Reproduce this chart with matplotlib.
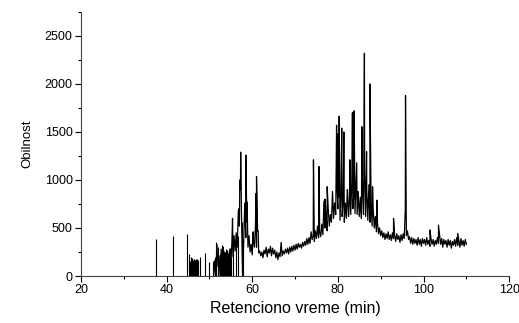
import numpy as np
import matplotlib
matplotlib.use("Agg")
import matplotlib.pyplot as plt
from matplotlib.ticker import MultipleLocator

plt.rcParams['font.family'] = ['Liberation Sans', 'DejaVu Sans']

# early isolated peaks (min, abundance), drawn from zero
early_times = [37.5, 41.6, 44.8, 45.3, 45.5, 45.7, 45.9, 46.1, 46.3, 46.5, 46.7,
               46.9, 47.1, 47.4, 47.7, 49.0, 50.0, 50.8,
               51.3, 51.6, 51.9, 52.1, 52.4, 52.6, 52.9, 53.1, 53.4, 53.6,
               53.9, 54.1, 54.4, 54.6, 54.9, 55.1, 55.6, 56.1, 56.6, 57.6, 57.9]
early_heights = [385, 416, 440, 225, 160, 200, 190, 170, 180, 175, 170,
                 175, 180, 170, 200, 240, 150, 160,
                 200, 350, 180, 300, 230, 190, 320, 170, 260, 210,
                 280, 180, 240, 220, 290, 200, 330, 360, 420, 560, 380]

# main trace read every 0.25 min from 51.0 to 110.0 min
scan_start = 51.0
scan_step = 0.25
trace = [
    0, 160, 0, 330, 100, 210, 0, 280,            # 51.0 - 52.75
    60, 300, 0, 240, 40, 260, 0, 280,            # 53.0 - 54.75
    120, 350, 200, 420, 260, 450, 300, 680,      # 55.0 - 56.75
    520, 900, 600, 0, 350, 760, 400, 560,        # 57.0 - 58.75
    300, 420, 250, 330, 220, 380, 300, 520,      # 59.0 - 60.75
    300, 470, 240, 260, 210, 250, 190, 270,      # 61.0 - 62.75
    230, 300, 200, 280, 240, 310, 210, 290,      # 63.0 - 64.75
    230, 270, 190, 250, 170, 240, 200, 350,      # 65.0 - 66.75
    210, 260, 230, 280, 240, 290, 230, 300,      # 67.0 - 68.75
    250, 310, 260, 320, 270, 330, 280, 340,      # 69.0 - 70.75
    300, 330, 290, 350, 310, 360, 320, 390,      # 71.0 - 72.75
    330, 400, 340, 460, 380, 420, 360, 470,      # 73.0 - 74.75
    390, 520, 400, 460, 410, 540, 430, 780,      # 75.0 - 76.75
    500, 620, 470, 700, 520, 640, 560, 880,      # 77.0 - 78.75
    600, 760, 640, 1000, 700, 820, 580, 900,     # 79.0 - 80.75
    620, 780, 560, 760, 600, 900, 620, 840,      # 81.0 - 82.75
    640, 980, 700, 860, 650, 1000, 640, 880,     # 83.0 - 84.75
    620, 820, 600, 900, 640, 1100, 620, 900,     # 85.0 - 86.75
    580, 950, 560, 760, 520, 700, 500, 620,      # 87.0 - 88.75
    460, 560, 440, 500, 420, 470, 400, 450,      # 89.0 - 90.75
    380, 440, 390, 460, 380, 430, 370, 450,      # 91.0 - 92.75
    390, 430, 360, 440, 380, 420, 350, 430,      # 93.0 - 94.75
    370, 440, 390, 700, 420, 470, 380, 410,      # 95.0 - 96.75
    340, 400, 330, 390, 340, 380, 320, 400,      # 97.0 - 98.75
    330, 380, 310, 390, 340, 380, 320, 400,      # 99.0 - 100.75
    330, 370, 310, 390, 330, 380, 310, 370,      # 101.0 - 102.75
    330, 400, 340, 430, 330, 390, 300, 380,      # 103.0 - 104.75
    330, 370, 300, 380, 320, 370, 290, 360,      # 105.0 - 106.75
    320, 380, 310, 400, 320, 370, 300, 390,      # 107.0 - 108.75
    320, 370, 310, 380, 330,                     # 109.0 - 110.0
]

# sharp peaks on top of the trace (min, abundance)
peak_times = [55.4, 56.9, 57.1, 57.3, 58.5, 58.8, 60.2, 60.9, 61.0, 61.4,
              74.3, 75.6, 77.0, 77.5, 79.7, 80.0, 80.3, 80.9, 81.4, 82.2,
              82.8, 83.4, 83.8, 84.4, 85.6, 86.2, 86.7, 87.5, 88.1, 89.1,
              93.0, 95.8, 101.5, 103.5, 108.0]
peak_heights = [600, 700, 1000, 1290, 1260, 770, 460, 860, 1035, 470,
                1210, 1140, 800, 930, 1570, 1480, 1665, 1540, 1500, 900,
                1210, 1700, 1720, 1180, 1555, 2320, 1295, 2000, 930, 790,
                600, 1880, 480, 530, 445]

trace_times = scan_start + scan_step * np.arange(len(trace))
t = np.concatenate([trace_times, peak_times])
y = np.concatenate([trace, peak_heights])
order = np.argsort(t, kind="stable")
t, y = t[order], y[order]

fig = plt.figure(figsize=(5.19, 3.23), dpi=100)
ax = fig.add_axes([0.156, 0.1455, 0.825, 0.8175])

ax.vlines(early_times, 0, early_heights, color="black", lw=0.8)
ax.plot(t, y, color="black", lw=0.9)

ax.set_xlim(20, 120)
ax.set_ylim(0, 2750)
ax.xaxis.set_major_locator(MultipleLocator(20))
ax.xaxis.set_minor_locator(MultipleLocator(10))
ax.yaxis.set_major_locator(MultipleLocator(500))
ax.yaxis.set_minor_locator(MultipleLocator(250))
ax.tick_params(which="major", direction="out", length=4, width=0.8, labelsize=9, pad=2)
ax.tick_params(which="minor", direction="out", length=2, width=0.8)
for s in ["top", "right"]:
    ax.spines[s].set_visible(False)
for s in ["left", "bottom"]:
    ax.spines[s].set_color("#444444")
    ax.spines[s].set_linewidth(0.8)

ax.set_xlabel("Retenciono vreme (min)", fontsize=11.5, labelpad=3)
ax.set_ylabel("Obilnost", fontsize=9.5, labelpad=8)

fig.savefig("out.png", dpi=100)
